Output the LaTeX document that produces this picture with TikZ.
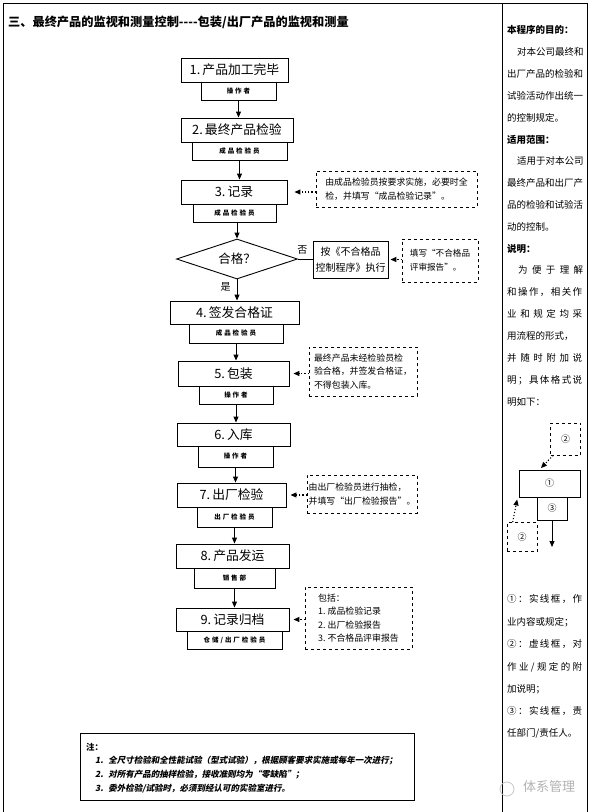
\documentclass[tikz,border=0pt]{standalone}
\usepackage{fontspec}
\setmainfont{Noto Sans CJK SC}
\newfontfamily\subfont{Noto Sans CJK SC}[LetterSpace=30]
\newfontfamily\notefont{Noto Sans CJK SC}[FakeSlant=0.2]
\usetikzlibrary{shapes.geometric, arrows.meta}

\begin{document}
\begin{tikzpicture}[x=1pt, y=-1pt,
  every node/.style={inner sep=0pt, align=center},
  mainbox/.style={draw, line width=0.9pt, font=\fontsize{12.8}{14}\selectfont},
  subbox/.style={draw, line width=0.9pt, font=\subfont\bfseries\fontsize{6.5}{7}\selectfont},
  notebox/.style={draw, dashed, line width=0.7pt, align=left, font=\fontsize{8.9}{13.5}\selectfont},
  flow/.style={line width=0.9pt, -{Triangle[length=6pt, width=5pt]}},
  hint/.style={line width=1.1pt, dotted, shorten >=2pt, -{Triangle[length=6pt, width=5pt]}},
  side/.style={anchor=west, font=\fontsize{9.5}{10}\selectfont},
  sidehead/.style={anchor=west, font=\bfseries\fontsize{9.5}{10}\selectfont}]
  \useasboundingbox (0,0) rectangle (593,812);
  % frame
  \draw[line width=1pt] (3,812) -- (3,3) -- (587,3) -- (587,812);
  \draw[line width=1pt] (502,3) -- (502,812);
  \node[anchor=west, font=\bfseries\fontsize{12.2}{13}\selectfont] (title) at (8,22) {三、最终产品的监视和测量控制-{}-{}-{}-包装/出厂产品的监视和测量};

  % flow
  \node[mainbox, minimum width=107, minimum height=24] (b1) at (234.5,70) {1.\,产品加工完毕};
  \node[subbox, minimum width=75, minimum height=18] (s1) at (238.5,91) {操作者};
  \node[mainbox, minimum width=112, minimum height=24] (b2) at (237,130) {2.\,最终产品检验};
  \node[subbox, minimum width=95, minimum height=18] (s2) at (239.5,151) {成品检验员};
  \node[mainbox, minimum width=106, minimum height=24] (b3) at (234,192) {3.\,记录};
  \node[subbox, minimum width=83, minimum height=18] (s3) at (234.5,213) {成品检验员};
  \node[diamond, draw, line width=0.9pt, aspect=3, minimum width=121, minimum height=40, font=\fontsize{12.5}{14}\selectfont] (chk) at (237,259) {合格？};
  \node[draw, line width=0.9pt, minimum width=75, minimum height=37, font=\fontsize{10}{16}\selectfont] (ng) at (350.5,259.5) {按《不合格品\\控制程序》执行};
  \node[notebox, minimum width=76, minimum height=43, font=\fontsize{8.6}{14.3}\selectfont] (nng) at (440,260.5) {填写“不合格品\\评审报告”。};
  \node[mainbox, minimum width=129, minimum height=23] (b4) at (234.5,312.5) {4.\,签发合格证};
  \node[subbox, minimum width=94, minimum height=19] (s4) at (236,333.5) {成品检验员};
  \node[mainbox, minimum width=111, minimum height=25] (b5) at (233.5,373.5) {5.\,包装};
  \node[subbox, minimum width=74, minimum height=18] (s5) at (236,395) {操作者};
  \node[mainbox, minimum width=113, minimum height=23] (b6) at (233.5,434.5) {6.\,入库};
  \node[subbox, minimum width=75, minimum height=21] (s6) at (235.5,456.5) {操作者};
  \node[mainbox, minimum width=109, minimum height=24] (b7) at (231.5,495) {7.\,出厂检验};
  \node[subbox, minimum width=75, minimum height=20] (s7) at (234.5,517) {出厂检验员};
  \node[mainbox, minimum width=113, minimum height=24] (b8) at (232.5,556) {8.\,产品发运};
  \node[subbox, minimum width=81, minimum height=20] (s8) at (234.5,578) {销售部};
  \node[mainbox, minimum width=113, minimum height=23] (b9) at (232.5,619.5) {9.\,记录归档};
  \node[subbox, minimum width=95, minimum height=18] (s9) at (234.5,640) {仓储/出厂检验员};

  % notes
  \node[notebox, minimum width=161, minimum height=36] (n3) at (396.5,189) {由成品检验员按要求实施，必要时全\\检，并填写“成品检验记录”。};
  \node[notebox, minimum width=108, minimum height=49] (n5) at (363,371.5) {最终产品未经检验员检\\验合格，并签发合格证，\\不得包装入库。};
  \node[notebox, minimum width=110, minimum height=38] (n7) at (362,494) {由出厂检验员进行抽检，\\并填写“出厂检验报告”。};
  \node[notebox, minimum width=107, minimum height=62] (n9) at (358.5,618) {包括：\\1.\ 成品检验记录\\2.\ 出厂检验报告\\3.\ 不合格品评审报告};

  \draw[flow] (s1.south) -- (s1.south |- b2.north);
  \draw[flow] (s2.south) -- (s2.south |- b3.north);
  \draw[flow] (chk.north |- s3.south) -- (chk.north);
  \draw[flow] (chk.south) -- (chk.south |- b4.north) node[pos=0.35, left=6pt, font=\fontsize{10}{11}\selectfont] (yes) {是};
  \draw[line width=0.9pt] (chk.east) -- (chk.east -| ng.west) node[pos=0.3, above=4pt, font=\fontsize{10}{11}\selectfont] (no) {否};
  \draw[flow] (s4.south) -- (s4.south |- b5.north);
  \draw[flow] (s5.south) -- (s5.south |- b6.north);
  \draw[flow] (s6.south) -- (s6.south |- b7.north);
  \draw[flow] (s7.south) -- (s7.south |- b8.north);
  \draw[flow] (s8.south) -- (s8.south |- b9.north);
  \draw[hint] (n3.west |- b3.east) -- ([xshift=5pt]b3.east);
  \draw[hint] (nng.west |- ng.east) -- (ng.east);
  \draw[hint] (n5.west |- b5.east) -- ([xshift=2pt]b5.east);
  \draw[hint] (n7.west |- b7.east) -- ([xshift=2pt]b7.east);
  \draw[hint] (n9.west |- b9.east) -- ([xshift=2pt]b9.east);

  % bottom remarks
  \node[draw, line width=0.9pt, minimum width=334, minimum height=67] (rmk) at (247,766.5) {};
  \node[anchor=west, font=\bfseries\fontsize{8.5}{9}\selectfont] (r0) at (86,747) {注：};
  \node[anchor=west, font=\notefont\bfseries\fontsize{8.5}{9}\selectfont] (r1) at (95,761) {1.\hspace{5pt}全尺寸检验和全性能试验（型式试验），根据顾客要求实施或每年一次进行；};
  \node[anchor=west, font=\notefont\bfseries\fontsize{8.5}{9}\selectfont] (r2) at (95,775) {2.\hspace{5pt}对所有产品的抽样检验，接收准则均为“零缺陷”；};
  \node[anchor=west, font=\notefont\bfseries\fontsize{8.5}{9}\selectfont] (r3) at (95,789) {3.\hspace{5pt}委外检验/试验时，必须到经认可的实验室进行。};

  % right column
  \node[sidehead] (h1) at (507,30) {本程序的目的：};
  \node[side] (l1) at (517,52) {对本公司最终和};
  \node[side] (l2) at (507,74) {出厂产品的检验和};
  \node[side] (l3) at (507,96) {试验活动作出统一};
  \node[side] (l4) at (507,118) {的控制规定。};
  \node[sidehead] (h2) at (507,140) {适用范围：};
  \node[side] (l5) at (517,161) {适用于对本公司};
  \node[side] (l6) at (507,183) {最终产品和出厂产};
  \node[side] (l7) at (507,205) {品的检验和试验活};
  \node[side] (l8) at (507,227) {动的控制。};
  \node[sidehead] (h3) at (507,249) {说明：};
  \node[side] (l9) at (518,270) {\makebox[65pt][s]{为 便 于 理 解}};
  \node[side] (l10) at (507,292) {\makebox[75pt][s]{和 操 作 ， 相 关 作}};
  \node[side] (l11) at (507,314) {\makebox[75pt][s]{业 和 规 定 均 采}};
  \node[side] (l12) at (507,336) {用流程的形式，};
  \node[side] (l13) at (507,358) {\makebox[75pt][s]{并 随 时 附 加 说}};
  \node[side] (l14) at (507,380) {\makebox[75pt][s]{明 ； 具 体 格 式 说}};
  \node[side] (l15) at (507,402) {明如下：};

  % legend sketch
  \node[draw, dashed, line width=0.7pt, minimum width=30, minimum height=32, font=\fontsize{9}{10}\selectfont] (mt) at (565.5,439) {②};
  \node[draw, line width=0.9pt, minimum width=61, minimum height=27, font=\fontsize{9}{10}\selectfont] (m1) at (549.5,483.5) {①};
  \node[draw, line width=0.9pt, minimum width=30, minimum height=23, font=\fontsize{9}{10}\selectfont] (m3) at (552,508.5) {③};
  \node[draw, dashed, line width=0.7pt, minimum width=30, minimum height=29, font=\fontsize{9}{10}\selectfont] (mb) at (522,537) {②};
  \coordinate (mend) at (552,547);
  \draw[flow] (m3.south) -- (mend);
  \draw[hint] ([xshift=3pt]mt.south west) -- ([xshift=21pt]m1.north west);
  \draw[hint] ([xshift=6pt]mb.north west) -- ([xshift=-1pt]m1.south west);

  \node[side] (k1) at (507,599) {\makebox[75pt][s]{① ： 实 线 框 ， 作}};
  \node[side] (k2) at (507,622) {业内容或规定；};
  \node[side] (k3) at (507,644) {\makebox[75pt][s]{② ： 虚 线 框 ， 对}};
  \node[side] (k4) at (507,667) {\makebox[75pt][s]{作 业 / 规 定 的 附}};
  \node[side] (k5) at (507,689) {加说明；};
  \node[side] (k6) at (507,711) {\makebox[75pt][s]{③ ： 实 线 框 ， 责}};
  \node[side] (k7) at (507,733) {任部门/责任人。};

  % watermark
  \draw[gray!45, line width=0.8pt] (507,789) circle (7);
  \node[gray!60, font=\fontsize{13}{14}\selectfont] (wm) at (549,787) {体系管理};
\end{tikzpicture}
\end{document}
